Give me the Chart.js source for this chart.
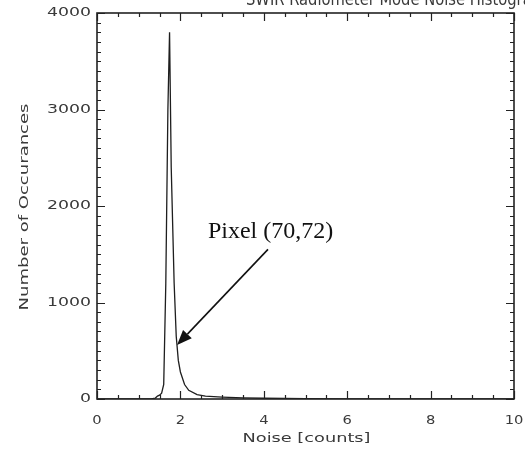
<!DOCTYPE html>
<html>
<head>
<meta charset="utf-8">
<script src="https://cdn.jsdelivr.net/npm/chart.js@4"></script>
<style>
  html, body { margin: 0; padding: 0; background: #fff; }
  #wrap { width: 525px; height: 453px; }
</style>
</head>
<body>
<div id="wrap"><canvas id="c" width="525" height="453"></canvas></div>
<script>
// Noise histogram of one detector pixel
const noiseCounts = [0, 1.30, 1.40, 1.45, 1.50, 1.55, 1.60, 1.65, 1.70, 1.74, 1.78, 1.85, 1.90, 1.95, 2.00, 2.10, 2.20, 2.40, 2.60, 2.80, 3.00, 3.50, 4.00, 4.50, 5.00, 6.00, 10.0];
const occurrences = [0, 0, 10, 30, 40, 60, 150, 1200, 3000, 3800, 2400, 1200, 650, 400, 280, 150, 90, 45, 30, 25, 20, 12, 8, 5, 3, 1, 0];

const xTickValues = [0, 2, 4, 6, 8, 10];
const yTickValues = [0, 1000, 2000, 3000, 4000];

const titleText = 'SWIR Radiometer Mode Noise Histogram';
const xTitle = 'Noise [counts]';
const yTitle = 'Number of Occurances';
const noteText = 'Pixel (70,72)';

// Annotation anchor points in data units
const noteAt = { x: 2.66, y: 1670 };
const arrowFrom = { x: 4.1, y: 1550 };
const arrowTo = { x: 1.92, y: 560 };

const INK = '#222';
const LABEL_INK = '#3a3a3a';

// Draws text stretched horizontally so it spans a given width
function wideText(ctx, text, x, y, font, width, align, rot) {
  ctx.save();
  ctx.font = font;
  const w = ctx.measureText(text).width;
  const sx = width / w;
  ctx.translate(x, y);
  if (rot) ctx.rotate(rot);
  ctx.scale(sx, 1);
  ctx.textAlign = align;
  ctx.textBaseline = 'middle';
  ctx.fillText(text, 0, 0);
  ctx.restore();
}

const frameAndLabels = {
  id: 'frameAndLabels',
  afterDraw(chart) {
    const { ctx, chartArea: a, scales } = chart;
    const xs = scales.x, ys = scales.y;
    ctx.save();
    ctx.strokeStyle = INK;
    ctx.fillStyle = LABEL_INK;

    // plot box
    ctx.lineWidth = 1.6;
    ctx.strokeRect(a.left, a.top, a.right - a.left, a.bottom - a.top);

    // inward ticks on all four sides
    ctx.lineWidth = 1.2;
    ctx.beginPath();
    for (let v = 0; v <= 10.0001; v += 0.5) {
      const px = Math.round(xs.getPixelForValue(v)) + 0.5;
      const major = Math.abs(v / 2 - Math.round(v / 2)) < 1e-6;
      const len = major ? 8 : 4;
      ctx.moveTo(px, a.bottom); ctx.lineTo(px, a.bottom - len);
      ctx.moveTo(px, a.top); ctx.lineTo(px, a.top + len);
    }
    for (let v = 0; v <= 4000.1; v += 100) {
      const py = Math.round(ys.getPixelForValue(v)) + 0.5;
      const major = v % 1000 === 0;
      const len = major ? 8 : 4;
      ctx.moveTo(a.left, py); ctx.lineTo(a.left + len, py);
      ctx.moveTo(a.right, py); ctx.lineTo(a.right - len, py);
    }
    ctx.stroke();

    // tick labels
    const tickFont = '12px "DejaVu Sans"';
    ctx.font = tickFont;
    const digitStretch = 44 / ctx.measureText('4000').width;
    ys.ticks.forEach(t => {
      const s = String(t.value);
      const w = ctx.measureText(s).width * digitStretch;
      wideText(ctx, s, a.left - 6, ys.getPixelForValue(t.value), tickFont, w, 'right');
    });
    xs.ticks.forEach(t => {
      const s = String(t.value);
      ctx.font = tickFont;
      const w = ctx.measureText(s).width * digitStretch * 0.85;
      wideText(ctx, s, xs.getPixelForValue(t.value), a.bottom + 22, tickFont, w, 'center');
    });

    // axis titles
    wideText(ctx, xTitle, (a.left + a.right) / 2 + 1, a.bottom + 40, '13px "DejaVu Sans"', 128, 'center');
    wideText(ctx, yTitle, 25, (a.top + a.bottom) / 2 + 1, '13px "DejaVu Sans"', 207, 'center', -Math.PI / 2);

    // title, running off the top of the canvas
    ctx.save();
    ctx.font = '18px "DejaVu Sans"';
    const tw = ctx.measureText(titleText).width;
    ctx.translate(246, 5);
    ctx.scale(300 / tw, 1);
    ctx.textAlign = 'left';
    ctx.textBaseline = 'alphabetic';
    ctx.fillText(titleText, 0, 0);
    ctx.restore();

    // annotation text
    ctx.fillStyle = '#111';
    ctx.font = '24px "Liberation Serif"';
    ctx.textAlign = 'left';
    ctx.textBaseline = 'alphabetic';
    ctx.fillText(noteText, xs.getPixelForValue(noteAt.x), ys.getPixelForValue(noteAt.y));

    // arrow
    const x0 = xs.getPixelForValue(arrowFrom.x), y0 = ys.getPixelForValue(arrowFrom.y);
    const x1 = xs.getPixelForValue(arrowTo.x), y1 = ys.getPixelForValue(arrowTo.y);
    const ang = Math.atan2(y1 - y0, x1 - x0);
    const headLen = 15, headW = 6;
    const bx = x1 - headLen * Math.cos(ang), by = y1 - headLen * Math.sin(ang);
    ctx.strokeStyle = '#111';
    ctx.lineWidth = 1.6;
    ctx.beginPath();
    ctx.moveTo(x0, y0); ctx.lineTo(bx, by);
    ctx.stroke();
    ctx.fillStyle = '#111';
    ctx.beginPath();
    ctx.moveTo(x1, y1);
    ctx.lineTo(bx + headW * Math.sin(ang), by - headW * Math.cos(ang));
    ctx.lineTo(bx - headW * Math.sin(ang), by + headW * Math.cos(ang));
    ctx.closePath();
    ctx.fill();
    ctx.restore();
  }
};

new Chart(document.getElementById('c'), {
  type: 'scatter',
  data: {
    datasets: [{
      data: noiseCounts.map((x, i) => ({ x, y: occurrences[i] })),
      showLine: true,
      borderColor: '#1e1e1e',
      borderWidth: 1.3,
      pointRadius: 0,
      tension: 0,
      fill: false
    }]
  },
  options: {
    responsive: false,
    devicePixelRatio: 1,
    animation: false,
    layout: { padding: { top: 13, right: 11, left: 0, bottom: 0 } },
    plugins: { legend: { display: false }, tooltip: { enabled: false }, title: { display: false } },
    scales: {
      x: {
        type: 'linear', min: 0, max: 10,
        grid: { display: false }, border: { display: false },
        ticks: { display: false },
        afterBuildTicks(s) { s.ticks = xTickValues.map(v => ({ value: v })); },
        afterFit(s) { s.height = 54; }
      },
      y: {
        type: 'linear', min: 0, max: 4000,
        grid: { display: false }, border: { display: false },
        ticks: { display: false },
        afterBuildTicks(s) { s.ticks = yTickValues.map(v => ({ value: v })); },
        afterFit(s) { s.width = 97; }
      }
    }
  },
  plugins: [frameAndLabels]
});
</script>
</body>
</html>
